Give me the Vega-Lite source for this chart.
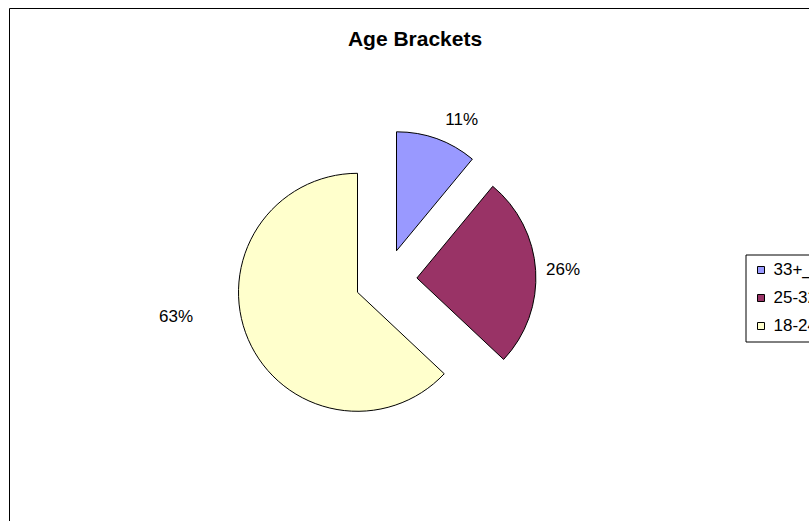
{
  "$schema": "https://vega.github.io/schema/vega-lite/v6.json",
  "width": 811,
  "height": 542,
  "autosize": {"type": "none"},
  "padding": {"left": 9.5, "top": 8.5, "right": 0, "bottom": 0},
  "background": "white",
  "title": {"text": "Age Brackets", "font": "Liberation Sans", "fontSize": 21, "fontWeight": "bold", "color": "#000", "anchor": "middle", "offset": -59, "baseline": "alphabetic"},
  "data": {"values": [
    {"bracket": "33+_", "share": 0.11},
    {"bracket": "25-32", "share": 0.26},
    {"bracket": "18-24", "share": 0.63}
  ]},
  "layer": [
    {
      "data": {"values": [{"frame": "chart area"}]},
      "mark": {"type": "rect", "fill": "white", "fillOpacity": 0, "stroke": "#000", "strokeWidth": 1},
      "encoding": {}
    },
    {
      "mark": {"type": "arc", "outerRadius": 119, "stroke": "#000", "strokeWidth": 1, "xOffset": -18.5, "yOffset": -28.7},
      "encoding": {
        "theta": {"field": "share", "type": "quantitative", "stack": true},
        "order": {"field": "bracket", "sort": "descending"},
        "color": {"field": "bracket", "type": "nominal", "scale": {"domain": ["33+_", "25-32", "18-24"], "range": ["#9999FF", "#993366", "#FFFFCC"]},
          "legend": {"orient": "none", "legendX": 736, "legendY": 246, "title": null, "symbolType": "square", "symbolSize": 49, "symbolStrokeColor": "#000", "symbolStrokeWidth": 1, "symbolOpacity": 1, "labelFont": "Liberation Sans", "labelFontSize": 17, "labelColor": "#000", "labelOffset": 4, "rowPadding": 10, "padding": 7, "strokeColor": "#000", "fillColor": "white"}},
        "opacity": {"condition": {"test": "datum.bracket === '33+_'", "value": 1}, "value": 0}
      }
    },
    {
      "mark": {"type": "arc", "outerRadius": 119, "stroke": "#000", "strokeWidth": 1, "xOffset": 1.9, "yOffset": -1.5},
      "encoding": {
        "theta": {"field": "share", "type": "quantitative", "stack": true},
        "order": {"field": "bracket", "sort": "descending"},
        "color": {"field": "bracket", "type": "nominal", "scale": {"domain": ["33+_", "25-32", "18-24"], "range": ["#9999FF", "#993366", "#FFFFCC"]},
          "legend": {"orient": "none", "legendX": 736, "legendY": 246, "title": null, "symbolType": "square", "symbolSize": 49, "symbolStrokeColor": "#000", "symbolStrokeWidth": 1, "symbolOpacity": 1, "labelFont": "Liberation Sans", "labelFontSize": 17, "labelColor": "#000", "labelOffset": 4, "rowPadding": 10, "padding": 7, "strokeColor": "#000", "fillColor": "white"}},
        "opacity": {"condition": {"test": "datum.bracket === '25-32'", "value": 1}, "value": 0}
      }
    },
    {
      "mark": {"type": "arc", "outerRadius": 119, "stroke": "#000", "strokeWidth": 1, "xOffset": -57.5, "yOffset": 12.8},
      "encoding": {
        "theta": {"field": "share", "type": "quantitative", "stack": true},
        "order": {"field": "bracket", "sort": "descending"},
        "color": {"field": "bracket", "type": "nominal", "scale": {"domain": ["33+_", "25-32", "18-24"], "range": ["#9999FF", "#993366", "#FFFFCC"]},
          "legend": {"orient": "none", "legendX": 736, "legendY": 246, "title": null, "symbolType": "square", "symbolSize": 49, "symbolStrokeColor": "#000", "symbolStrokeWidth": 1, "symbolOpacity": 1, "labelFont": "Liberation Sans", "labelFontSize": 17, "labelColor": "#000", "labelOffset": 4, "rowPadding": 10, "padding": 7, "strokeColor": "#000", "fillColor": "white"}},
        "opacity": {"condition": {"test": "datum.bracket === '18-24'", "value": 1}, "value": 0}
      }
    },
    {
      "mark": {"type": "text", "radius": 177, "font": "Liberation Sans", "fontSize": 17, "color": "#000", "dx": -13.3, "dy": 7.1},
      "encoding": {
        "theta": {"field": "share", "type": "quantitative", "stack": true},
        "order": {"field": "bracket", "sort": "descending"},
        "text": {"field": "share", "type": "quantitative", "format": ".0%"},
        "opacity": {"condition": {"test": "datum.bracket === '33+_'", "value": 1}, "value": 0}
      }
    },
    {
      "mark": {"type": "text", "radius": 177, "font": "Liberation Sans", "fontSize": 17, "color": "#000", "dx": -28.6, "dy": 1.6},
      "encoding": {
        "theta": {"field": "share", "type": "quantitative", "stack": true},
        "order": {"field": "bracket", "sort": "descending"},
        "text": {"field": "share", "type": "quantitative", "format": ".0%"},
        "opacity": {"condition": {"test": "datum.bracket === '25-32'", "value": 1}, "value": 0}
      }
    },
    {
      "mark": {"type": "text", "radius": 177, "font": "Liberation Sans", "fontSize": 17, "color": "#000", "dx": -76.5, "dy": -32.8},
      "encoding": {
        "theta": {"field": "share", "type": "quantitative", "stack": true},
        "order": {"field": "bracket", "sort": "descending"},
        "text": {"field": "share", "type": "quantitative", "format": ".0%"},
        "opacity": {"condition": {"test": "datum.bracket === '18-24'", "value": 1}, "value": 0}
      }
    }
  ],
  "config": {
    "view": {"stroke": "#000", "strokeWidth": 1},
    "font": "Liberation Sans"
  }
}
